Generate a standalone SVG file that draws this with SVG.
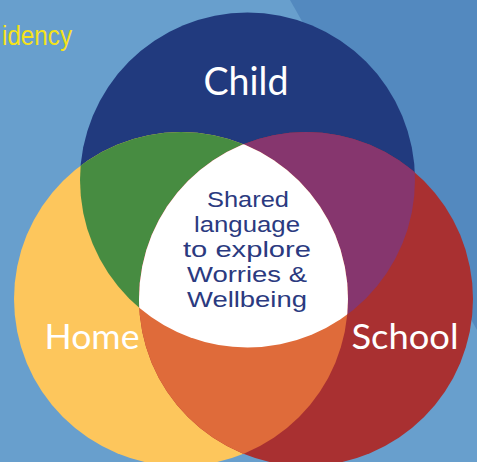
<svg xmlns="http://www.w3.org/2000/svg" width="477" height="462" viewBox="0 0 477 462">
  <style>
    .lbl { font-family: "Lato", "Liberation Sans", sans-serif; fill: #ffffff; text-anchor: middle; }
    .ctr { font-family: "Liberation Sans", sans-serif; fill: #2b3a80; text-anchor: middle; font-size: 22px; }
  </style>
  <defs>
    <clipPath id="cChild"><circle cx="247.5" cy="180" r="167.5"/></clipPath>
    <clipPath id="cSchool"><circle cx="306" cy="299" r="167"/></clipPath>
    <clipPath id="cChildSchool" clip-path="url(#cChild)"><circle cx="306" cy="299" r="167"/></clipPath>
  </defs>
  <g id="background">
    <rect x="0" y="0" width="477" height="462" fill="#689fcd"/>
    <polygon points="290,0 477,0 477,330" fill="#5389bf"/>
    <text x="2" y="45" font-family="'Comic Sans MS', 'Liberation Sans', sans-serif" font-size="27" fill="#f5e21a" textLength="70" lengthAdjust="spacingAndGlyphs">idency</text>
  </g>
  <g id="child">
    <circle cx="247.5" cy="180" r="167.5" fill="#213a7e"/>
    <text class="lbl" x="246" y="95" font-size="39" textLength="85" lengthAdjust="spacingAndGlyphs">Child</text>
  </g>
  <g id="home">
    <circle cx="181" cy="299" r="167" fill="#fdc65c"/>
  </g>
  <g id="school">
    <circle cx="306" cy="299" r="167" fill="#a93031"/>
  </g>
  <g id="overlaps">
    <circle cx="181" cy="299" r="167" fill="#478c41" clip-path="url(#cChild)"/>
    <circle cx="306" cy="299" r="167" fill="#86366e" clip-path="url(#cChild)"/>
    <circle cx="181" cy="299" r="167" fill="#df6b3a" clip-path="url(#cSchool)"/>
    <circle cx="181" cy="299" r="167" fill="#ffffff" clip-path="url(#cChildSchool)"/>
  </g>
  <g id="labels">
    <text class="lbl" x="92" y="349" font-size="34" textLength="95" lengthAdjust="spacingAndGlyphs">Home</text>
    <text class="lbl" x="405" y="349" font-size="34" textLength="107" lengthAdjust="spacingAndGlyphs">School</text>
  </g>
  <g id="center">
    <text class="ctr" x="248" y="207" textLength="82" lengthAdjust="spacingAndGlyphs">Shared</text>
    <text class="ctr" x="247" y="232" textLength="106" lengthAdjust="spacingAndGlyphs">language</text>
    <text class="ctr" x="247" y="257" textLength="128" lengthAdjust="spacingAndGlyphs">to explore</text>
    <text class="ctr" x="247" y="282" textLength="120" lengthAdjust="spacingAndGlyphs">Worries &amp;</text>
    <text class="ctr" x="247" y="307" textLength="120" lengthAdjust="spacingAndGlyphs">Wellbeing</text>
  </g>
</svg>
